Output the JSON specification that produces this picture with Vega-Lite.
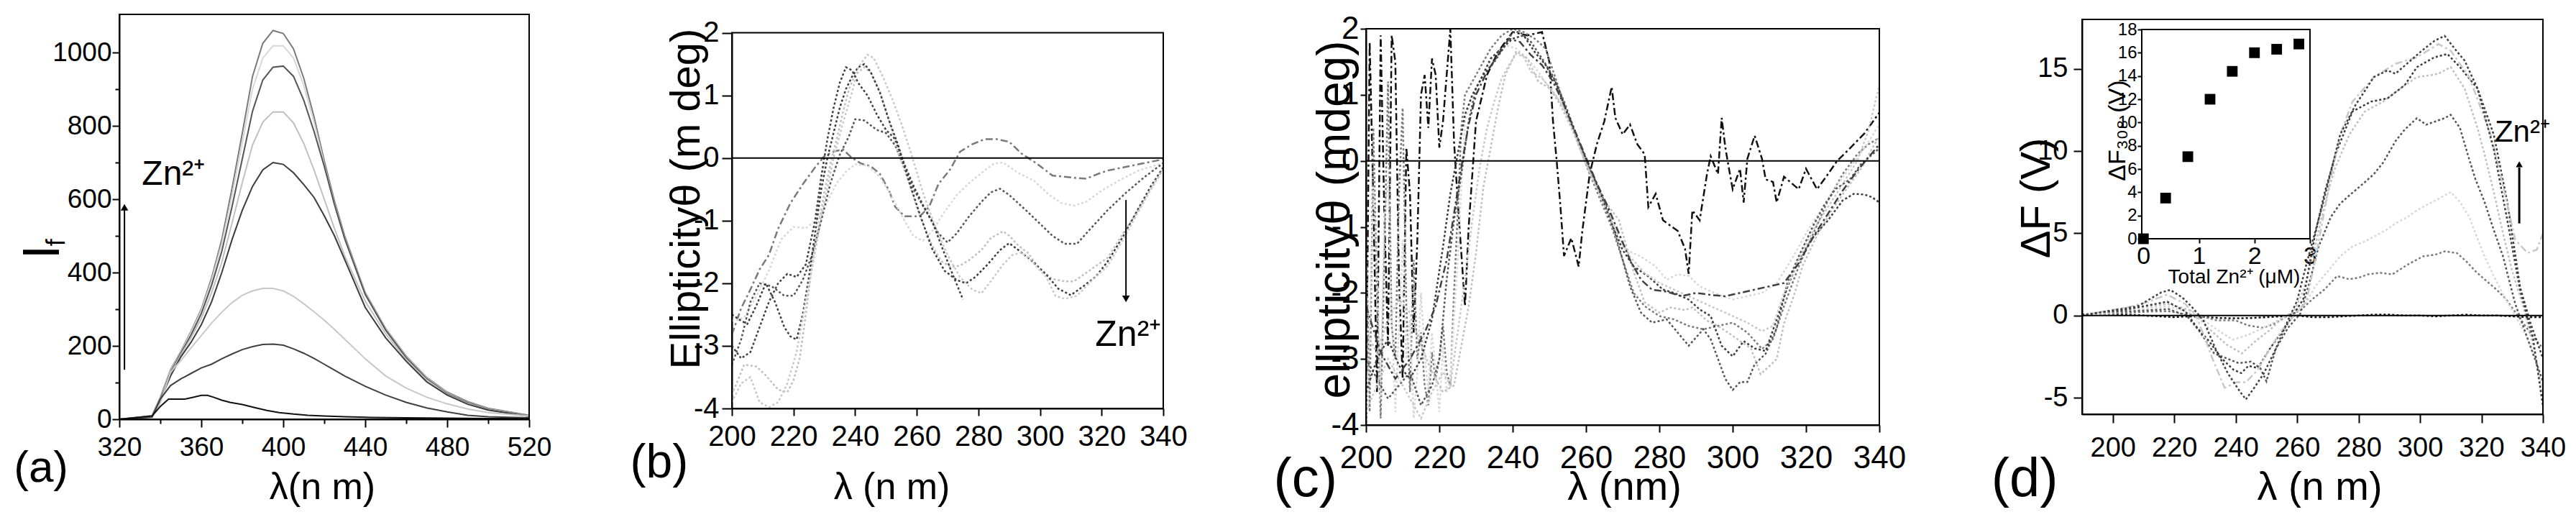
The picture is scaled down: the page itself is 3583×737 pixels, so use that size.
{
  "$schema": "https://vega.github.io/schema/vega-lite/v6.json",
  "background": "#ffffff",
  "padding": {"left": 19, "top": 18, "right": 0, "bottom": 0},
  "autosize": {"type": "pad"},
  "bounds": "flush",
  "spacing": 282,
  "config": {
    "font": "Liberation Sans",
    "view": {"stroke": null},
    "axis": {
      "grid": false,
      "domainColor": "#000000",
      "domainWidth": 2,
      "tickColor": "#000000",
      "tickWidth": 2,
      "tickSize": 10,
      "labelColor": "#000000",
      "titleColor": "#000000",
      "titleFontWeight": "normal",
      "labelFlush": false,
      "labelOverlap": false,
      "labelExpr": "'' + datum.value"
    }
  },
  "datasets": {
    "fa": [
      {"s":"a1","x":320,"y":0},{"s":"a1","x":336,"y":10},{"s":"a1","x":340,"y":60},{"s":"a1","x":345,"y":135},{"s":"a1","x":350,"y":185},{"s":"a1","x":355,"y":240},{"s":"a1","x":360,"y":300},{"s":"a1","x":365,"y":385},{"s":"a1","x":370,"y":490},{"s":"a1","x":375,"y":630},{"s":"a1","x":380,"y":780},{"s":"a1","x":385,"y":935},{"s":"a1","x":390,"y":1025},{"s":"a1","x":395,"y":1060},{"s":"a1","x":400,"y":1052},{"s":"a1","x":405,"y":1010},{"s":"a1","x":410,"y":930},{"s":"a1","x":415,"y":825},{"s":"a1","x":420,"y":705},{"s":"a1","x":425,"y":595},{"s":"a1","x":430,"y":500},{"s":"a1","x":440,"y":345},{"s":"a1","x":450,"y":247},{"s":"a1","x":460,"y":172},{"s":"a1","x":470,"y":114},{"s":"a1","x":480,"y":74},{"s":"a1","x":490,"y":48},{"s":"a1","x":500,"y":30},{"s":"a1","x":520,"y":11},
      {"s":"a2","x":320,"y":0},{"s":"a2","x":336,"y":9},{"s":"a2","x":340,"y":58},{"s":"a2","x":345,"y":132},{"s":"a2","x":350,"y":183},{"s":"a2","x":355,"y":237},{"s":"a2","x":360,"y":296},{"s":"a2","x":365,"y":378},{"s":"a2","x":370,"y":478},{"s":"a2","x":375,"y":610},{"s":"a2","x":380,"y":755},{"s":"a2","x":385,"y":900},{"s":"a2","x":390,"y":985},{"s":"a2","x":395,"y":1018},{"s":"a2","x":400,"y":1018},{"s":"a2","x":405,"y":985},{"s":"a2","x":410,"y":910},{"s":"a2","x":415,"y":810},{"s":"a2","x":420,"y":695},{"s":"a2","x":425,"y":588},{"s":"a2","x":430,"y":495},{"s":"a2","x":440,"y":342},{"s":"a2","x":450,"y":245},{"s":"a2","x":460,"y":170},{"s":"a2","x":470,"y":112},{"s":"a2","x":480,"y":72},{"s":"a2","x":490,"y":46},{"s":"a2","x":500,"y":28},{"s":"a2","x":520,"y":10},
      {"s":"a3","x":320,"y":0},{"s":"a3","x":336,"y":9},{"s":"a3","x":340,"y":56},{"s":"a3","x":345,"y":128},{"s":"a3","x":350,"y":180},{"s":"a3","x":355,"y":230},{"s":"a3","x":360,"y":288},{"s":"a3","x":365,"y":365},{"s":"a3","x":370,"y":458},{"s":"a3","x":375,"y":580},{"s":"a3","x":380,"y":710},{"s":"a3","x":385,"y":840},{"s":"a3","x":390,"y":925},{"s":"a3","x":395,"y":960},{"s":"a3","x":400,"y":963},{"s":"a3","x":405,"y":935},{"s":"a3","x":410,"y":870},{"s":"a3","x":415,"y":785},{"s":"a3","x":420,"y":690},{"s":"a3","x":425,"y":585},{"s":"a3","x":430,"y":492},{"s":"a3","x":440,"y":340},{"s":"a3","x":450,"y":243},{"s":"a3","x":460,"y":168},{"s":"a3","x":470,"y":110},{"s":"a3","x":480,"y":70},{"s":"a3","x":490,"y":45},{"s":"a3","x":500,"y":27},{"s":"a3","x":520,"y":10},
      {"s":"a4","x":320,"y":0},{"s":"a4","x":336,"y":8},{"s":"a4","x":340,"y":54},{"s":"a4","x":345,"y":124},{"s":"a4","x":350,"y":176},{"s":"a4","x":355,"y":222},{"s":"a4","x":360,"y":275},{"s":"a4","x":365,"y":345},{"s":"a4","x":370,"y":428},{"s":"a4","x":375,"y":535},{"s":"a4","x":380,"y":645},{"s":"a4","x":385,"y":748},{"s":"a4","x":390,"y":810},{"s":"a4","x":395,"y":838},{"s":"a4","x":400,"y":838},{"s":"a4","x":405,"y":808},{"s":"a4","x":410,"y":752},{"s":"a4","x":415,"y":680},{"s":"a4","x":420,"y":600},{"s":"a4","x":425,"y":520},{"s":"a4","x":430,"y":445},{"s":"a4","x":440,"y":322},{"s":"a4","x":450,"y":233},{"s":"a4","x":460,"y":163},{"s":"a4","x":470,"y":107},{"s":"a4","x":480,"y":68},{"s":"a4","x":490,"y":43},{"s":"a4","x":500,"y":26},{"s":"a4","x":520,"y":9},
      {"s":"a5","x":320,"y":0},{"s":"a5","x":336,"y":8},{"s":"a5","x":340,"y":52},{"s":"a5","x":345,"y":118},{"s":"a5","x":350,"y":170},{"s":"a5","x":355,"y":210},{"s":"a5","x":360,"y":258},{"s":"a5","x":365,"y":320},{"s":"a5","x":370,"y":400},{"s":"a5","x":375,"y":490},{"s":"a5","x":380,"y":570},{"s":"a5","x":385,"y":635},{"s":"a5","x":390,"y":680},{"s":"a5","x":395,"y":700},{"s":"a5","x":400,"y":695},{"s":"a5","x":405,"y":672},{"s":"a5","x":410,"y":640},{"s":"a5","x":415,"y":605},{"s":"a5","x":420,"y":555},{"s":"a5","x":425,"y":500},{"s":"a5","x":430,"y":435},{"s":"a5","x":440,"y":305},{"s":"a5","x":450,"y":222},{"s":"a5","x":460,"y":158},{"s":"a5","x":470,"y":102},{"s":"a5","x":480,"y":66},{"s":"a5","x":490,"y":41},{"s":"a5","x":500,"y":25},{"s":"a5","x":520,"y":8},
      {"s":"a6","x":320,"y":0},{"s":"a6","x":336,"y":6},{"s":"a6","x":340,"y":45},{"s":"a6","x":345,"y":128},{"s":"a6","x":350,"y":160},{"s":"a6","x":355,"y":195},{"s":"a6","x":360,"y":228},{"s":"a6","x":365,"y":262},{"s":"a6","x":370,"y":292},{"s":"a6","x":375,"y":318},{"s":"a6","x":380,"y":338},{"s":"a6","x":385,"y":350},{"s":"a6","x":390,"y":357},{"s":"a6","x":395,"y":357},{"s":"a6","x":400,"y":350},{"s":"a6","x":405,"y":335},{"s":"a6","x":410,"y":315},{"s":"a6","x":415,"y":293},{"s":"a6","x":420,"y":270},{"s":"a6","x":425,"y":245},{"s":"a6","x":430,"y":218},{"s":"a6","x":440,"y":165},{"s":"a6","x":450,"y":118},{"s":"a6","x":460,"y":85},{"s":"a6","x":470,"y":60},{"s":"a6","x":480,"y":42},{"s":"a6","x":490,"y":28},{"s":"a6","x":500,"y":18},{"s":"a6","x":520,"y":9},
      {"s":"a7","x":320,"y":0},{"s":"a7","x":336,"y":6},{"s":"a7","x":340,"y":55},{"s":"a7","x":345,"y":92},{"s":"a7","x":350,"y":110},{"s":"a7","x":355,"y":125},{"s":"a7","x":360,"y":140},{"s":"a7","x":365,"y":150},{"s":"a7","x":370,"y":165},{"s":"a7","x":375,"y":178},{"s":"a7","x":380,"y":190},{"s":"a7","x":385,"y":198},{"s":"a7","x":390,"y":204},{"s":"a7","x":395,"y":205},{"s":"a7","x":400,"y":202},{"s":"a7","x":405,"y":192},{"s":"a7","x":410,"y":180},{"s":"a7","x":415,"y":166},{"s":"a7","x":420,"y":150},{"s":"a7","x":425,"y":134},{"s":"a7","x":430,"y":118},{"s":"a7","x":440,"y":90},{"s":"a7","x":450,"y":66},{"s":"a7","x":460,"y":46},{"s":"a7","x":470,"y":31},{"s":"a7","x":480,"y":20},{"s":"a7","x":490,"y":11},{"s":"a7","x":500,"y":7},{"s":"a7","x":520,"y":4},
      {"s":"a8","x":320,"y":0},{"s":"a8","x":336,"y":9},{"s":"a8","x":340,"y":35},{"s":"a8","x":344,"y":55},{"s":"a8","x":348,"y":55},{"s":"a8","x":352,"y":55},{"s":"a8","x":356,"y":60},{"s":"a8","x":360,"y":65},{"s":"a8","x":363,"y":65},{"s":"a8","x":366,"y":60},{"s":"a8","x":370,"y":52},{"s":"a8","x":374,"y":46},{"s":"a8","x":380,"y":40},{"s":"a8","x":386,"y":32},{"s":"a8","x":392,"y":24},{"s":"a8","x":398,"y":18},{"s":"a8","x":405,"y":14},{"s":"a8","x":412,"y":11},{"s":"a8","x":420,"y":9},{"s":"a8","x":430,"y":7},{"s":"a8","x":443,"y":5},{"s":"a8","x":460,"y":4},{"s":"a8","x":480,"y":3},{"s":"a8","x":500,"y":2},{"s":"a8","x":520,"y":2}
    ],
    "fb": [
      {"s":"b1","x":200,"y":-2.82},{"s":"b1","x":203,"y":-2.4},{"s":"b1","x":206,"y":-2.1},{"s":"b1","x":209,"y":-1.78},{"s":"b1","x":212,"y":-1.55},{"s":"b1","x":215,"y":-1.13},{"s":"b1","x":219,"y":-0.72},{"s":"b1","x":223,"y":-0.42},{"s":"b1","x":227,"y":-0.15},{"s":"b1","x":230,"y":0.03},{"s":"b1","x":233,"y":0.1},{"s":"b1","x":236,"y":0.14},{"s":"b1","x":239,"y":0},{"s":"b1","x":242,"y":-0.09},{"s":"b1","x":245,"y":-0.13},{"s":"b1","x":248,"y":-0.25},{"s":"b1","x":251,"y":-0.52},{"s":"b1","x":253,"y":-0.78},{"s":"b1","x":256,"y":-0.93},{"s":"b1","x":261,"y":-0.93},{"s":"b1","x":264,"y":-0.78},{"s":"b1","x":267,"y":-0.42},{"s":"b1","x":271,"y":-0.17},{"s":"b1","x":274,"y":0.1},{"s":"b1","x":278,"y":0.22},{"s":"b1","x":282,"y":0.3},{"s":"b1","x":286,"y":0.3},{"s":"b1","x":290,"y":0.26},{"s":"b1","x":294,"y":0.07},{"s":"b1","x":299,"y":-0.09},{"s":"b1","x":304,"y":-0.28},{"s":"b1","x":308,"y":-0.3},{"s":"b1","x":312,"y":-0.32},{"s":"b1","x":315,"y":-0.33},{"s":"b1","x":319,"y":-0.25},{"s":"b1","x":322,"y":-0.2},{"s":"b1","x":326,"y":-0.16},{"s":"b1","x":330,"y":-0.12},{"s":"b1","x":335,"y":-0.07},{"s":"b1","x":340,"y":-0.02},
      {"s":"b2","x":200,"y":-2.6},{"s":"b2","x":204,"y":-2.55},{"s":"b2","x":208,"y":-2.2},{"s":"b2","x":212,"y":-1.8},{"s":"b2","x":216,"y":-1.3},{"s":"b2","x":220,"y":-1.1},{"s":"b2","x":224,"y":-1.12},{"s":"b2","x":228,"y":-0.97},{"s":"b2","x":231,"y":-0.7},{"s":"b2","x":234,"y":-0.4},{"s":"b2","x":237,"y":-0.22},{"s":"b2","x":240,"y":-0.1},{"s":"b2","x":244,"y":-0.12},{"s":"b2","x":248,"y":-0.3},{"s":"b2","x":252,"y":-0.62},{"s":"b2","x":256,"y":-1.0},{"s":"b2","x":259,"y":-1.25},{"s":"b2","x":262,"y":-1.32},{"s":"b2","x":265,"y":-1.17},{"s":"b2","x":269,"y":-0.86},{"s":"b2","x":273,"y":-0.59},{"s":"b2","x":277,"y":-0.4},{"s":"b2","x":282,"y":-0.2},{"s":"b2","x":285,"y":-0.09},{"s":"b2","x":288,"y":-0.07},{"s":"b2","x":293,"y":-0.24},{"s":"b2","x":298,"y":-0.36},{"s":"b2","x":303,"y":-0.59},{"s":"b2","x":307,"y":-0.72},{"s":"b2","x":311,"y":-0.76},{"s":"b2","x":315,"y":-0.7},{"s":"b2","x":320,"y":-0.52},{"s":"b2","x":326,"y":-0.35},{"s":"b2","x":332,"y":-0.2},{"s":"b2","x":340,"y":-0.08},
      {"s":"b3","x":200,"y":-3.3},{"s":"b3","x":203,"y":-2.9},{"s":"b3","x":206,"y":-2.3},{"s":"b3","x":209,"y":-2.0},{"s":"b3","x":213,"y":-2.05},{"s":"b3","x":217,"y":-2.2},{"s":"b3","x":220,"y":-2.2},{"s":"b3","x":223,"y":-1.95},{"s":"b3","x":226,"y":-1.55},{"s":"b3","x":229,"y":-1.0},{"s":"b3","x":232,"y":-0.4},{"s":"b3","x":235,"y":0.05},{"s":"b3","x":238,"y":0.35},{"s":"b3","x":240,"y":0.62},{"s":"b3","x":243,"y":0.6},{"s":"b3","x":247,"y":0.45},{"s":"b3","x":250,"y":0.4},{"s":"b3","x":253,"y":0.2},{"s":"b3","x":256,"y":-0.15},{"s":"b3","x":259,"y":-0.5},{"s":"b3","x":263,"y":-0.85},{"s":"b3","x":267,"y":-1.2},{"s":"b3","x":270,"y":-1.35},{"s":"b3","x":273,"y":-1.2},{"s":"b3","x":277,"y":-0.93},{"s":"b3","x":281,"y":-0.7},{"s":"b3","x":284,"y":-0.55},{"s":"b3","x":287,"y":-0.49},{"s":"b3","x":290,"y":-0.59},{"s":"b3","x":296,"y":-0.86},{"s":"b3","x":300,"y":-1.05},{"s":"b3","x":304,"y":-1.24},{"s":"b3","x":308,"y":-1.37},{"s":"b3","x":312,"y":-1.37},{"s":"b3","x":316,"y":-1.15},{"s":"b3","x":322,"y":-0.83},{"s":"b3","x":328,"y":-0.55},{"s":"b3","x":334,"y":-0.3},{"s":"b3","x":340,"y":-0.08},
      {"s":"b4","x":200,"y":-3.78},{"s":"b4","x":204,"y":-3.3},{"s":"b4","x":208,"y":-3.33},{"s":"b4","x":211,"y":-3.47},{"s":"b4","x":215,"y":-3.7},{"s":"b4","x":218,"y":-3.74},{"s":"b4","x":220,"y":-3.55},{"s":"b4","x":222,"y":-3.2},{"s":"b4","x":224,"y":-2.5},{"s":"b4","x":226,"y":-1.7},{"s":"b4","x":228,"y":-1.1},{"s":"b4","x":230,"y":-0.55},{"s":"b4","x":232,"y":-0.09},{"s":"b4","x":234,"y":0.3},{"s":"b4","x":236,"y":0.72},{"s":"b4","x":238,"y":1.1},{"s":"b4","x":240,"y":1.33},{"s":"b4","x":243,"y":1.45},{"s":"b4","x":245,"y":1.37},{"s":"b4","x":248,"y":1.07},{"s":"b4","x":251,"y":0.6},{"s":"b4","x":254,"y":0.07},{"s":"b4","x":257,"y":-0.32},{"s":"b4","x":261,"y":-0.93},{"s":"b4","x":265,"y":-1.4},{"s":"b4","x":268,"y":-1.65},{"s":"b4","x":271,"y":-1.74},{"s":"b4","x":274,"y":-1.72},{"s":"b4","x":277,"y":-1.63},{"s":"b4","x":281,"y":-1.47},{"s":"b4","x":284,"y":-1.28},{"s":"b4","x":288,"y":-1.17},{"s":"b4","x":290,"y":-1.24},{"s":"b4","x":293,"y":-1.4},{"s":"b4","x":296,"y":-1.51},{"s":"b4","x":300,"y":-1.78},{"s":"b4","x":304,"y":-1.93},{"s":"b4","x":308,"y":-1.97},{"s":"b4","x":311,"y":-1.97},{"s":"b4","x":316,"y":-1.8},{"s":"b4","x":322,"y":-1.59},{"s":"b4","x":327,"y":-1.2},{"s":"b4","x":331,"y":-0.9},{"s":"b4","x":336,"y":-0.5},{"s":"b4","x":340,"y":-0.18},
      {"s":"b5","x":200,"y":-2.5},{"s":"b5","x":203,"y":-2.6},{"s":"b5","x":205,"y":-2.65},{"s":"b5","x":208,"y":-2.35},{"s":"b5","x":211,"y":-2.0},{"s":"b5","x":214,"y":-2.3},{"s":"b5","x":217,"y":-2.7},{"s":"b5","x":219,"y":-2.85},{"s":"b5","x":221,"y":-2.9},{"s":"b5","x":223,"y":-2.5},{"s":"b5","x":225,"y":-1.9},{"s":"b5","x":227,"y":-1.2},{"s":"b5","x":229,"y":-0.5},{"s":"b5","x":231,"y":0.0},{"s":"b5","x":233,"y":0.4},{"s":"b5","x":235,"y":0.8},{"s":"b5","x":237,"y":1.1},{"s":"b5","x":239,"y":1.3},{"s":"b5","x":241,"y":1.45},{"s":"b5","x":243,"y":1.5},{"s":"b5","x":245,"y":1.38},{"s":"b5","x":248,"y":1.05},{"s":"b5","x":251,"y":0.6},{"s":"b5","x":254,"y":0.2},{"s":"b5","x":257,"y":-0.3},{"s":"b5","x":261,"y":-0.9},{"s":"b5","x":265,"y":-1.45},{"s":"b5","x":269,"y":-1.8},{"s":"b5","x":273,"y":-1.95},{"s":"b5","x":276,"y":-2.0},{"s":"b5","x":279,"y":-1.9},{"s":"b5","x":283,"y":-1.7},{"s":"b5","x":287,"y":-1.47},{"s":"b5","x":290,"y":-1.36},{"s":"b5","x":293,"y":-1.47},{"s":"b5","x":298,"y":-1.67},{"s":"b5","x":302,"y":-1.86},{"s":"b5","x":306,"y":-2.09},{"s":"b5","x":310,"y":-2.19},{"s":"b5","x":314,"y":-2.05},{"s":"b5","x":318,"y":-1.9},{"s":"b5","x":322,"y":-1.65},{"s":"b5","x":327,"y":-1.25},{"s":"b5","x":332,"y":-0.8},{"s":"b5","x":336,"y":-0.45},{"s":"b5","x":340,"y":-0.15},
      {"s":"b6","x":200,"y":-3.9},{"s":"b6","x":203,"y":-3.6},{"s":"b6","x":206,"y":-3.5},{"s":"b6","x":209,"y":-3.9},{"s":"b6","x":212,"y":-3.98},{"s":"b6","x":215,"y":-3.9},{"s":"b6","x":218,"y":-3.6},{"s":"b6","x":221,"y":-3.1},{"s":"b6","x":224,"y":-2.3},{"s":"b6","x":227,"y":-1.5},{"s":"b6","x":230,"y":-0.7},{"s":"b6","x":233,"y":0.0},{"s":"b6","x":236,"y":0.55},{"s":"b6","x":239,"y":1.05},{"s":"b6","x":241,"y":1.45},{"s":"b6","x":244,"y":1.65},{"s":"b6","x":246,"y":1.6},{"s":"b6","x":249,"y":1.3},{"s":"b6","x":252,"y":0.95},{"s":"b6","x":255,"y":0.55},{"s":"b6","x":258,"y":0.1},{"s":"b6","x":262,"y":-0.55},{"s":"b6","x":266,"y":-1.1},{"s":"b6","x":270,"y":-1.55},{"s":"b6","x":274,"y":-1.9},{"s":"b6","x":278,"y":-2.1},{"s":"b6","x":281,"y":-2.16},{"s":"b6","x":284,"y":-1.97},{"s":"b6","x":288,"y":-1.7},{"s":"b6","x":291,"y":-1.55},{"s":"b6","x":294,"y":-1.51},{"s":"b6","x":297,"y":-1.63},{"s":"b6","x":302,"y":-1.9},{"s":"b6","x":305,"y":-2.2},{"s":"b6","x":308,"y":-2.25},{"s":"b6","x":312,"y":-2.2},{"s":"b6","x":317,"y":-1.95},{"s":"b6","x":322,"y":-1.72},{"s":"b6","x":327,"y":-1.3},{"s":"b6","x":332,"y":-0.85},{"s":"b6","x":336,"y":-0.5},{"s":"b6","x":340,"y":-0.18},
      {"s":"b7","x":200,"y":-3.0},{"s":"b7","x":203,"y":-3.2},{"s":"b7","x":206,"y":-3.1},{"s":"b7","x":209,"y":-2.7},{"s":"b7","x":212,"y":-2.3},{"s":"b7","x":215,"y":-2.0},{"s":"b7","x":218,"y":-1.85},{"s":"b7","x":221,"y":-1.9},{"s":"b7","x":224,"y":-1.7},{"s":"b7","x":227,"y":-1.0},{"s":"b7","x":229,"y":-0.3},{"s":"b7","x":231,"y":0.3},{"s":"b7","x":233,"y":0.8},{"s":"b7","x":235,"y":1.2},{"s":"b7","x":237,"y":1.45},{"s":"b7","x":239,"y":1.4},{"s":"b7","x":241,"y":1.2},{"s":"b7","x":244,"y":1.0},{"s":"b7","x":247,"y":0.7},{"s":"b7","x":250,"y":0.45},{"s":"b7","x":253,"y":0.3},{"s":"b7","x":256,"y":-0.1},{"s":"b7","x":259,"y":-0.45},{"s":"b7","x":262,"y":-0.75},{"s":"b7","x":265,"y":-1.01},{"s":"b7","x":268,"y":-1.4},{"s":"b7","x":271,"y":-1.78},{"s":"b7","x":275,"y":-2.26}
    ],
    "fc": [
      {"s":"c1","x":200,"y":-3.9},{"s":"c1","x":201,"y":1.8},{"s":"c1","x":202,"y":-0.6},{"s":"c1","x":203,"y":-3.5},{"s":"c1","x":204,"y":1.9},{"s":"c1","x":205,"y":-0.8},{"s":"c1","x":206,"y":-2.8},{"s":"c1","x":207,"y":1.9},{"s":"c1","x":208,"y":1.5},{"s":"c1","x":209,"y":-1.8},{"s":"c1","x":210,"y":-3.3},{"s":"c1","x":211,"y":0.2},{"s":"c1","x":212,"y":-0.5},{"s":"c1","x":213,"y":-2.6},{"s":"c1","x":214,"y":-1.2},{"s":"c1","x":215,"y":1.0},{"s":"c1","x":216,"y":1.3},{"s":"c1","x":217,"y":0.5},{"s":"c1","x":218,"y":1.55},{"s":"c1","x":219,"y":1.3},{"s":"c1","x":220,"y":0.2},{"s":"c1","x":221,"y":0.6},{"s":"c1","x":222,"y":1.3},{"s":"c1","x":223,"y":2.0},{"s":"c1","x":224,"y":0.3},{"s":"c1","x":225,"y":-0.6},{"s":"c1","x":226,"y":-1.4},{"s":"c1","x":227,"y":-2.2},{"s":"c1","x":228,"y":-1.0},{"s":"c1","x":230,"y":0.6},{"s":"c1","x":233,"y":1.3},{"s":"c1","x":236,"y":1.65},{"s":"c1","x":240,"y":1.95},{"s":"c1","x":244,"y":1.9},{"s":"c1","x":248,"y":1.95},{"s":"c1","x":250,"y":1.5},{"s":"c1","x":251,"y":0.6},{"s":"c1","x":252,"y":0.0},{"s":"c1","x":253,"y":-0.67},{"s":"c1","x":254,"y":-1.44},{"s":"c1","x":256,"y":-1.17},{"s":"c1","x":258,"y":-1.6},{"s":"c1","x":259,"y":-1.06},{"s":"c1","x":261,"y":-0.2},{"s":"c1","x":263,"y":0.26},{"s":"c1","x":265,"y":0.6},{"s":"c1","x":267,"y":1.12},{"s":"c1","x":268,"y":0.65},{"s":"c1","x":270,"y":0.4},{"s":"c1","x":272,"y":0.55},{"s":"c1","x":274,"y":0.25},{"s":"c1","x":276,"y":0.1},{"s":"c1","x":277,"y":-0.7},{"s":"c1","x":279,"y":-0.5},{"s":"c1","x":281,"y":-0.9},{"s":"c1","x":285,"y":-1.06},{"s":"c1","x":287,"y":-1.33},{"s":"c1","x":288,"y":-1.71},{"s":"c1","x":289,"y":-0.75},{"s":"c1","x":291,"y":-0.9},{"s":"c1","x":293,"y":-0.2},{"s":"c1","x":294,"y":0.07},{"s":"c1","x":296,"y":-0.2},{"s":"c1","x":297,"y":0.65},{"s":"c1","x":298,"y":0.2},{"s":"c1","x":299,"y":-0.12},{"s":"c1","x":300,"y":-0.43},{"s":"c1","x":302,"y":-0.12},{"s":"c1","x":303,"y":-0.63},{"s":"c1","x":304,"y":0.03},{"s":"c1","x":306,"y":0.38},{"s":"c1","x":308,"y":0.03},{"s":"c1","x":309,"y":-0.28},{"s":"c1","x":311,"y":-0.32},{"s":"c1","x":312,"y":-0.63},{"s":"c1","x":314,"y":-0.24},{"s":"c1","x":318,"y":-0.43},{"s":"c1","x":320,"y":-0.12},{"s":"c1","x":323,"y":-0.43},{"s":"c1","x":326,"y":-0.2},{"s":"c1","x":328.5,"y":0.0},{"s":"c1","x":332,"y":0.19},{"s":"c1","x":336,"y":0.42},{"s":"c1","x":340,"y":0.73},
      {"s":"c2","x":200,"y":-1.0},{"s":"c2","x":201,"y":-3.8},{"s":"c2","x":202,"y":0.5},{"s":"c2","x":203,"y":-2.0},{"s":"c2","x":204,"y":-3.9},{"s":"c2","x":205,"y":-1.5},{"s":"c2","x":206,"y":1.2},{"s":"c2","x":207,"y":-2.5},{"s":"c2","x":208,"y":-3.0},{"s":"c2","x":209,"y":-0.5},{"s":"c2","x":210,"y":0.8},{"s":"c2","x":211,"y":-2.2},{"s":"c2","x":212,"y":-3.5},{"s":"c2","x":213,"y":-1.5},{"s":"c2","x":214,"y":-3.0},{"s":"c2","x":215,"y":-2.6},{"s":"c2","x":216,"y":-3.4},{"s":"c2","x":217,"y":-3.7},{"s":"c2","x":218,"y":-2.9},{"s":"c2","x":219,"y":-3.3},{"s":"c2","x":220,"y":-3.0},{"s":"c2","x":221,"y":-2.5},{"s":"c2","x":222,"y":-3.2},{"s":"c2","x":223,"y":-3.4},{"s":"c2","x":224,"y":-2.0},{"s":"c2","x":225,"y":-0.8},{"s":"c2","x":226,"y":0.5},{"s":"c2","x":227,"y":1.0},{"s":"c2","x":229,"y":1.2},{"s":"c2","x":231,"y":1.4},{"s":"c2","x":234,"y":1.7},{"s":"c2","x":237,"y":1.9},{"s":"c2","x":240,"y":2.0},{"s":"c2","x":243,"y":1.95},{"s":"c2","x":246,"y":1.85},{"s":"c2","x":249,"y":1.7},{"s":"c2","x":252,"y":1.2},{"s":"c2","x":255,"y":0.7},{"s":"c2","x":258,"y":0.25},{"s":"c2","x":261,"y":-0.2},{"s":"c2","x":264,"y":-0.6},{"s":"c2","x":267,"y":-1.0},{"s":"c2","x":270,"y":-1.5},{"s":"c2","x":273,"y":-2.0},{"s":"c2","x":276,"y":-2.2},{"s":"c2","x":280,"y":-2.35},{"s":"c2","x":284,"y":-2.4},{"s":"c2","x":288,"y":-2.5},{"s":"c2","x":292,"y":-2.55},{"s":"c2","x":296,"y":-2.5},{"s":"c2","x":300,"y":-2.45},{"s":"c2","x":304,"y":-2.6},{"s":"c2","x":308,"y":-2.85},{"s":"c2","x":311,"y":-2.7},{"s":"c2","x":314,"y":-2.2},{"s":"c2","x":318,"y":-1.6},{"s":"c2","x":322,"y":-1.1},{"s":"c2","x":326,"y":-0.6},{"s":"c2","x":330,"y":-0.2},{"s":"c2","x":334,"y":0.1},{"s":"c2","x":337,"y":0.25},{"s":"c2","x":340,"y":0.35},
      {"s":"c3","x":200,"y":-4.0},{"s":"c3","x":201,"y":-2.5},{"s":"c3","x":202,"y":-0.4},{"s":"c3","x":203,"y":-1.5},{"s":"c3","x":204,"y":-3.6},{"s":"c3","x":205,"y":-0.8},{"s":"c3","x":206,"y":-0.3},{"s":"c3","x":207,"y":-2.3},{"s":"c3","x":208,"y":-3.8},{"s":"c3","x":209,"y":-2.5},{"s":"c3","x":210,"y":-1.2},{"s":"c3","x":211,"y":-3.0},{"s":"c3","x":212,"y":-2.4},{"s":"c3","x":213,"y":-3.9},{"s":"c3","x":214,"y":-3.2},{"s":"c3","x":215,"y":-2.0},{"s":"c3","x":216,"y":-2.9},{"s":"c3","x":217,"y":-3.5},{"s":"c3","x":218,"y":-2.6},{"s":"c3","x":219,"y":-3.2},{"s":"c3","x":220,"y":-3.8},{"s":"c3","x":221,"y":-2.8},{"s":"c3","x":222,"y":-3.5},{"s":"c3","x":223,"y":-3.3},{"s":"c3","x":224,"y":-2.4},{"s":"c3","x":225,"y":-1.5},{"s":"c3","x":226,"y":-0.4},{"s":"c3","x":227,"y":0.6},{"s":"c3","x":229,"y":1.0},{"s":"c3","x":232,"y":1.3},{"s":"c3","x":235,"y":1.6},{"s":"c3","x":238,"y":1.75},{"s":"c3","x":241,"y":1.7},{"s":"c3","x":244,"y":1.55},{"s":"c3","x":247,"y":1.35},{"s":"c3","x":250,"y":1.1},{"s":"c3","x":253,"y":0.9},{"s":"c3","x":256,"y":0.55},{"s":"c3","x":259,"y":0.15},{"s":"c3","x":262,"y":-0.25},{"s":"c3","x":265,"y":-0.65},{"s":"c3","x":268,"y":-1.1},{"s":"c3","x":271,"y":-1.35},{"s":"c3","x":275,"y":-1.45},{"s":"c3","x":279,"y":-1.6},{"s":"c3","x":282,"y":-1.8},{"s":"c3","x":285,"y":-1.72},{"s":"c3","x":288,"y":-1.74},{"s":"c3","x":291,"y":-1.9},{"s":"c3","x":295,"y":-2.0},{"s":"c3","x":300,"y":-2.1},{"s":"c3","x":304,"y":-2.05},{"s":"c3","x":308,"y":-2.0},{"s":"c3","x":312,"y":-1.85},{"s":"c3","x":316,"y":-1.5},{"s":"c3","x":320,"y":-1.1},{"s":"c3","x":324,"y":-0.75},{"s":"c3","x":328,"y":-0.4},{"s":"c3","x":332,"y":-0.1},{"s":"c3","x":336,"y":0.2},{"s":"c3","x":340,"y":0.55},
      {"s":"c4","x":200,"y":-3.0},{"s":"c4","x":203,"y":-3.3},{"s":"c4","x":206,"y":-3.6},{"s":"c4","x":209,"y":-3.4},{"s":"c4","x":212,"y":-3.2},{"s":"c4","x":215,"y":-3.7},{"s":"c4","x":218,"y":-3.4},{"s":"c4","x":220,"y":-3.0},{"s":"c4","x":222,"y":-1.8},{"s":"c4","x":224,"y":-0.9},{"s":"c4","x":226,"y":-0.2},{"s":"c4","x":228,"y":0.6},{"s":"c4","x":230,"y":1.1},{"s":"c4","x":232,"y":1.3},{"s":"c4","x":235,"y":1.5},{"s":"c4","x":238,"y":1.75},{"s":"c4","x":240,"y":1.95},{"s":"c4","x":242,"y":1.95},{"s":"c4","x":245,"y":1.8},{"s":"c4","x":248,"y":1.55},{"s":"c4","x":251,"y":1.28},{"s":"c4","x":254,"y":0.9},{"s":"c4","x":257,"y":0.45},{"s":"c4","x":260,"y":0.0},{"s":"c4","x":263,"y":-0.35},{"s":"c4","x":266,"y":-0.75},{"s":"c4","x":269,"y":-1.3},{"s":"c4","x":272,"y":-1.9},{"s":"c4","x":275,"y":-2.3},{"s":"c4","x":278,"y":-2.45},{"s":"c4","x":282,"y":-2.4},{"s":"c4","x":285,"y":-2.6},{"s":"c4","x":288,"y":-2.8},{"s":"c4","x":292,"y":-2.55},{"s":"c4","x":294,"y":-2.7},{"s":"c4","x":296,"y":-3.0},{"s":"c4","x":298,"y":-3.3},{"s":"c4","x":300,"y":-3.47},{"s":"c4","x":302,"y":-3.35},{"s":"c4","x":304,"y":-3.35},{"s":"c4","x":306,"y":-3.08},{"s":"c4","x":309,"y":-2.92},{"s":"c4","x":312,"y":-2.53},{"s":"c4","x":315,"y":-1.83},{"s":"c4","x":318,"y":-1.45},{"s":"c4","x":322,"y":-0.98},{"s":"c4","x":325,"y":-0.67},{"s":"c4","x":328,"y":-0.43},{"s":"c4","x":332,"y":-0.28},{"s":"c4","x":335,"y":-0.05},{"s":"c4","x":340,"y":0.19},
      {"s":"c5","x":200,"y":-2.6},{"s":"c5","x":203,"y":-2.9},{"s":"c5","x":206,"y":-2.4},{"s":"c5","x":209,"y":-2.1},{"s":"c5","x":212,"y":-2.3},{"s":"c5","x":215,"y":-2.8},{"s":"c5","x":218,"y":-3.2},{"s":"c5","x":221,"y":-3.5},{"s":"c5","x":224,"y":-3.4},{"s":"c5","x":226,"y":-2.8},{"s":"c5","x":228,"y":-2.2},{"s":"c5","x":230,"y":-1.4},{"s":"c5","x":232,"y":-0.4},{"s":"c5","x":234,"y":0.2},{"s":"c5","x":236,"y":0.8},{"s":"c5","x":238,"y":1.3},{"s":"c5","x":241,"y":1.66},{"s":"c5","x":244,"y":1.55},{"s":"c5","x":247,"y":1.2},{"s":"c5","x":250,"y":1.1},{"s":"c5","x":253,"y":0.85},{"s":"c5","x":256,"y":0.5},{"s":"c5","x":259,"y":0.1},{"s":"c5","x":262,"y":-0.3},{"s":"c5","x":265,"y":-0.6},{"s":"c5","x":269,"y":-0.9},{"s":"c5","x":273,"y":-1.68},{"s":"c5","x":276,"y":-2.14},{"s":"c5","x":280,"y":-2.3},{"s":"c5","x":283,"y":-2.22},{"s":"c5","x":287,"y":-2.26},{"s":"c5","x":289,"y":-2.22},{"s":"c5","x":293,"y":-2.42},{"s":"c5","x":296,"y":-2.5},{"s":"c5","x":299,"y":-2.61},{"s":"c5","x":302,"y":-2.73},{"s":"c5","x":305,"y":-2.84},{"s":"c5","x":307.6,"y":-3.23},{"s":"c5","x":310,"y":-3.11},{"s":"c5","x":312,"y":-3.0},{"s":"c5","x":314,"y":-2.46},{"s":"c5","x":317,"y":-1.99},{"s":"c5","x":319,"y":-1.6},{"s":"c5","x":323,"y":-1.13},{"s":"c5","x":327,"y":-0.75},{"s":"c5","x":331,"y":-0.43},{"s":"c5","x":335,"y":-0.12},{"s":"c5","x":340,"y":0.38},
      {"s":"c6","x":200,"y":-3.5},{"s":"c6","x":203,"y":-3.0},{"s":"c6","x":206,"y":-2.7},{"s":"c6","x":209,"y":-3.1},{"s":"c6","x":212,"y":-3.3},{"s":"c6","x":215,"y":-3.0},{"s":"c6","x":218,"y":-2.4},{"s":"c6","x":221,"y":-1.3},{"s":"c6","x":223,"y":-0.5},{"s":"c6","x":225,"y":0.1},{"s":"c6","x":227,"y":0.7},{"s":"c6","x":229,"y":1.0},{"s":"c6","x":231,"y":1.2},{"s":"c6","x":234,"y":1.55},{"s":"c6","x":237,"y":1.7},{"s":"c6","x":240,"y":1.85},{"s":"c6","x":243,"y":1.9},{"s":"c6","x":246,"y":1.65},{"s":"c6","x":249,"y":1.45},{"s":"c6","x":252,"y":1.15},{"s":"c6","x":255,"y":0.7},{"s":"c6","x":258,"y":0.3},{"s":"c6","x":261,"y":-0.1},{"s":"c6","x":264,"y":-0.5},{"s":"c6","x":267,"y":-0.95},{"s":"c6","x":270,"y":-1.35},{"s":"c6","x":273,"y":-1.6},{"s":"c6","x":277,"y":-1.75},{"s":"c6","x":281,"y":-1.95},{"s":"c6","x":284,"y":-2.0},{"s":"c6","x":288,"y":-2.1},{"s":"c6","x":291,"y":-2.25},{"s":"c6","x":294,"y":-2.35},{"s":"c6","x":297,"y":-2.8},{"s":"c6","x":300,"y":-2.96},{"s":"c6","x":303,"y":-2.73},{"s":"c6","x":306,"y":-2.84},{"s":"c6","x":309,"y":-2.88},{"s":"c6","x":312,"y":-2.4},{"s":"c6","x":315,"y":-1.9},{"s":"c6","x":318,"y":-1.5},{"s":"c6","x":322,"y":-1.15},{"s":"c6","x":326,"y":-0.9},{"s":"c6","x":330,"y":-0.6},{"s":"c6","x":333,"y":-0.5},{"s":"c6","x":336,"y":-0.51},{"s":"c6","x":338,"y":-0.55},{"s":"c6","x":340,"y":-0.63},
      {"s":"c7","x":200,"y":-3.8},{"s":"c7","x":203,"y":-3.4},{"s":"c7","x":206,"y":-3.0},{"s":"c7","x":209,"y":-3.3},{"s":"c7","x":212,"y":-3.6},{"s":"c7","x":215,"y":-3.9},{"s":"c7","x":218,"y":-3.5},{"s":"c7","x":221,"y":-3.2},{"s":"c7","x":223,"y":-3.4},{"s":"c7","x":225,"y":-2.6},{"s":"c7","x":227,"y":-1.8},{"s":"c7","x":229,"y":-0.9},{"s":"c7","x":231,"y":-0.1},{"s":"c7","x":233,"y":0.5},{"s":"c7","x":235,"y":0.9},{"s":"c7","x":237,"y":1.25},{"s":"c7","x":239,"y":1.45},{"s":"c7","x":241,"y":1.62},{"s":"c7","x":243,"y":1.58},{"s":"c7","x":245,"y":1.35},{"s":"c7","x":248,"y":1.25},{"s":"c7","x":251,"y":1.05},{"s":"c7","x":254,"y":0.8},{"s":"c7","x":257,"y":0.4},{"s":"c7","x":260,"y":-0.05},{"s":"c7","x":263,"y":-0.4},{"s":"c7","x":266,"y":-0.8},{"s":"c7","x":269,"y":-1.15},{"s":"c7","x":272,"y":-1.45},{"s":"c7","x":276,"y":-1.7},{"s":"c7","x":280,"y":-1.85},{"s":"c7","x":284,"y":-1.95},{"s":"c7","x":288,"y":-2.05},{"s":"c7","x":292,"y":-2.15},{"s":"c7","x":296,"y":-2.25},{"s":"c7","x":300,"y":-2.35},{"s":"c7","x":304,"y":-2.45},{"s":"c7","x":308,"y":-2.58},{"s":"c7","x":311,"y":-2.5},{"s":"c7","x":314,"y":-2.0},{"s":"c7","x":318,"y":-1.5},{"s":"c7","x":322,"y":-1.05},{"s":"c7","x":326,"y":-0.7},{"s":"c7","x":330,"y":-0.35},{"s":"c7","x":334,"y":0.0},{"s":"c7","x":337,"y":0.45},{"s":"c7","x":340,"y":1.15},
      {"s":"c8","x":200,"y":-2.2},{"s":"c8","x":204,"y":-2.9},{"s":"c8","x":208,"y":-3.3},{"s":"c8","x":212,"y":-3.0},{"s":"c8","x":216,"y":-2.6},{"s":"c8","x":219,"y":-2.2},{"s":"c8","x":222,"y":-1.5},{"s":"c8","x":224,"y":-0.8},{"s":"c8","x":226,"y":-0.1},{"s":"c8","x":228,"y":0.55},{"s":"c8","x":230,"y":1.0},{"s":"c8","x":233,"y":1.35},{"s":"c8","x":236,"y":1.6},{"s":"c8","x":239,"y":1.85},{"s":"c8","x":242,"y":1.8},{"s":"c8","x":245,"y":1.6},{"s":"c8","x":248,"y":1.45},{"s":"c8","x":251,"y":1.2},{"s":"c8","x":254,"y":0.85},{"s":"c8","x":257,"y":0.45},{"s":"c8","x":260,"y":0.05},{"s":"c8","x":263,"y":-0.35},{"s":"c8","x":266,"y":-0.7},{"s":"c8","x":269,"y":-1.1},{"s":"c8","x":272,"y":-1.5},{"s":"c8","x":275,"y":-1.8},{"s":"c8","x":278,"y":-1.95},{"s":"c8","x":282,"y":-1.98},{"s":"c8","x":286,"y":-2.05},{"s":"c8","x":290,"y":-2.0},{"s":"c8","x":294,"y":-2.03},{"s":"c8","x":298,"y":-2.05},{"s":"c8","x":302,"y":-2.0},{"s":"c8","x":306,"y":-1.95},{"s":"c8","x":310,"y":-1.9},{"s":"c8","x":314,"y":-1.85},{"s":"c8","x":318,"y":-1.55},{"s":"c8","x":322,"y":-1.15},{"s":"c8","x":326,"y":-0.8},{"s":"c8","x":330,"y":-0.45},{"s":"c8","x":334,"y":-0.15},{"s":"c8","x":337,"y":0.05},{"s":"c8","x":340,"y":0.25}
    ],
    "fd": [
      {"s":"d0","x":190,"y":0.05},{"s":"d0","x":195,"y":0.15},{"s":"d0","x":200,"y":0.1},{"s":"d0","x":205,"y":0.05},{"s":"d0","x":210,"y":0.0},{"s":"d0","x":215,"y":-0.05},{"s":"d0","x":220,"y":-0.1},{"s":"d0","x":225,"y":-0.05},{"s":"d0","x":230,"y":-0.1},{"s":"d0","x":235,"y":-0.15},{"s":"d0","x":240,"y":-0.17},{"s":"d0","x":245,"y":-0.15},{"s":"d0","x":250,"y":-0.1},{"s":"d0","x":255,"y":-0.05},{"s":"d0","x":260,"y":0.0},{"s":"d0","x":265,"y":-0.1},{"s":"d0","x":270,"y":-0.1},{"s":"d0","x":275,"y":-0.05},{"s":"d0","x":280,"y":0.0},{"s":"d0","x":285,"y":0.05},{"s":"d0","x":290,"y":0.05},{"s":"d0","x":295,"y":0.0},{"s":"d0","x":300,"y":0.0},{"s":"d0","x":305,"y":-0.05},{"s":"d0","x":310,"y":0.0},{"s":"d0","x":315,"y":0.05},{"s":"d0","x":320,"y":0.0},{"s":"d0","x":325,"y":0.0},{"s":"d0","x":330,"y":-0.05},{"s":"d0","x":335,"y":-0.1},{"s":"d0","x":340,"y":-0.1},
      {"s":"d1","x":190,"y":0.0},{"s":"d1","x":198,"y":0.1},{"s":"d1","x":208,"y":0.2},{"s":"d1","x":213,"y":0.25},{"s":"d1","x":218,"y":0.26},{"s":"d1","x":223,"y":0.1},{"s":"d1","x":228,"y":0.0},{"s":"d1","x":234,"y":-0.3},{"s":"d1","x":240,"y":-0.3},{"s":"d1","x":244,"y":-0.6},{"s":"d1","x":249,"y":-0.75},{"s":"d1","x":253,"y":-0.46},{"s":"d1","x":257,"y":0.0},{"s":"d1","x":261,"y":0.3},{"s":"d1","x":265,"y":1.0},{"s":"d1","x":269,"y":1.6},{"s":"d1","x":273,"y":2.4},{"s":"d1","x":277,"y":2.2},{"s":"d1","x":280,"y":2.3},{"s":"d1","x":283,"y":2.5},{"s":"d1","x":287,"y":2.6},{"s":"d1","x":291,"y":2.5},{"s":"d1","x":296,"y":3.1},{"s":"d1","x":301,"y":3.6},{"s":"d1","x":305,"y":3.7},{"s":"d1","x":308,"y":3.9},{"s":"d1","x":312,"y":3.8},{"s":"d1","x":315,"y":3.3},{"s":"d1","x":318,"y":2.7},{"s":"d1","x":321,"y":2.2},{"s":"d1","x":325,"y":1.56},{"s":"d1","x":328,"y":1.0},{"s":"d1","x":331,"y":0.2},{"s":"d1","x":333,"y":-0.3},{"s":"d1","x":336,"y":-1.1},{"s":"d1","x":340,"y":-2.0},
      {"s":"d2","x":190,"y":0.0},{"s":"d2","x":198,"y":0.15},{"s":"d2","x":208,"y":0.35},{"s":"d2","x":213,"y":0.45},{"s":"d2","x":218,"y":0.55},{"s":"d2","x":223,"y":0.3},{"s":"d2","x":228,"y":-0.05},{"s":"d2","x":233,"y":-0.75},{"s":"d2","x":239,"y":-1.47},{"s":"d2","x":244,"y":-1.18},{"s":"d2","x":249,"y":-0.75},{"s":"d2","x":255,"y":-0.17},{"s":"d2","x":259,"y":0.1},{"s":"d2","x":263,"y":0.8},{"s":"d2","x":266,"y":1.8},{"s":"d2","x":270,"y":2.7},{"s":"d2","x":274,"y":3.6},{"s":"d2","x":278,"y":4.2},{"s":"d2","x":282,"y":4.5},{"s":"d2","x":285,"y":4.8},{"s":"d2","x":289,"y":5.2},{"s":"d2","x":292,"y":5.6},{"s":"d2","x":296,"y":6.0},{"s":"d2","x":299,"y":6.4},{"s":"d2","x":303,"y":6.8},{"s":"d2","x":306,"y":7.1},{"s":"d2","x":310,"y":7.5},{"s":"d2","x":313,"y":6.9},{"s":"d2","x":316,"y":6.0},{"s":"d2","x":318,"y":5.0},{"s":"d2","x":321,"y":3.6},{"s":"d2","x":324,"y":2.4},{"s":"d2","x":327,"y":1.3},{"s":"d2","x":331,"y":0.0},{"s":"d2","x":335,"y":-1.4},{"s":"d2","x":338,"y":-2.8},{"s":"d2","x":340,"y":-4.5},
      {"s":"d3","x":190,"y":0.0},{"s":"d3","x":196,"y":0.2},{"s":"d3","x":204,"y":0.25},{"s":"d3","x":210,"y":0.3},{"s":"d3","x":215,"y":0.35},{"s":"d3","x":218,"y":0.4},{"s":"d3","x":221,"y":0.2},{"s":"d3","x":224,"y":0.0},{"s":"d3","x":228,"y":-0.9},{"s":"d3","x":233,"y":-2.3},{"s":"d3","x":237,"y":-2.6},{"s":"d3","x":241,"y":-2.9},{"s":"d3","x":245,"y":-2.8},{"s":"d3","x":248,"y":-3.2},{"s":"d3","x":250,"y":-4.0},{"s":"d3","x":253,"y":-2.05},{"s":"d3","x":257,"y":-0.75},{"s":"d3","x":261,"y":0.1},{"s":"d3","x":264,"y":2.0},{"s":"d3","x":267,"y":4.2},{"s":"d3","x":271,"y":6.0},{"s":"d3","x":274,"y":6.8},{"s":"d3","x":277,"y":7.3},{"s":"d3","x":282,"y":8.1},{"s":"d3","x":285,"y":8.6},{"s":"d3","x":288,"y":9.3},{"s":"d3","x":292,"y":10.6},{"s":"d3","x":295,"y":11.3},{"s":"d3","x":299,"y":12.0},{"s":"d3","x":302,"y":11.6},{"s":"d3","x":305,"y":11.8},{"s":"d3","x":308,"y":12.0},{"s":"d3","x":310,"y":12.2},{"s":"d3","x":313,"y":11.4},{"s":"d3","x":316,"y":9.5},{"s":"d3","x":318,"y":8.3},{"s":"d3","x":321,"y":6.9},{"s":"d3","x":324,"y":5.2},{"s":"d3","x":327,"y":3.6},{"s":"d3","x":331,"y":0.7},{"s":"d3","x":335,"y":-1.4},{"s":"d3","x":340,"y":-4.0},
      {"s":"d4","x":190,"y":0.0},{"s":"d4","x":197,"y":0.2},{"s":"d4","x":205,"y":0.4},{"s":"d4","x":212,"y":0.55},{"s":"d4","x":218,"y":0.7},{"s":"d4","x":222,"y":0.5},{"s":"d4","x":226,"y":0.26},{"s":"d4","x":231,"y":-0.75},{"s":"d4","x":237,"y":-1.76},{"s":"d4","x":242,"y":-2.3},{"s":"d4","x":247,"y":-1.47},{"s":"d4","x":251,"y":-0.9},{"s":"d4","x":255,"y":-0.17},{"s":"d4","x":259,"y":0.26},{"s":"d4","x":262,"y":1.5},{"s":"d4","x":265,"y":3.5},{"s":"d4","x":268.5,"y":6.4},{"s":"d4","x":272,"y":8.8},{"s":"d4","x":277,"y":11.0},{"s":"d4","x":282,"y":12.4},{"s":"d4","x":288,"y":13.0},{"s":"d4","x":293.6,"y":13.8},{"s":"d4","x":299,"y":14.5},{"s":"d4","x":303,"y":14.6},{"s":"d4","x":306,"y":14.7},{"s":"d4","x":310,"y":15.1},{"s":"d4","x":314.5,"y":13.8},{"s":"d4","x":318.7,"y":11.4},{"s":"d4","x":321,"y":9.8},{"s":"d4","x":324,"y":7.5},{"s":"d4","x":327,"y":5.0},{"s":"d4","x":330,"y":2.7},{"s":"d4","x":334,"y":0.3},{"s":"d4","x":337,"y":-2.0},{"s":"d4","x":340,"y":-5.1},
      {"s":"d5","x":190,"y":0.0},{"s":"d5","x":196,"y":0.2},{"s":"d5","x":204,"y":0.35},{"s":"d5","x":211,"y":0.6},{"s":"d5","x":217.7,"y":0.84},{"s":"d5","x":223.6,"y":0.26},{"s":"d5","x":227.5,"y":-0.75},{"s":"d5","x":231.5,"y":-1.6},{"s":"d5","x":235.4,"y":-2.6},{"s":"d5","x":239.3,"y":-3.3},{"s":"d5","x":241.8,"y":-3.5},{"s":"d5","x":244.2,"y":-3.05},{"s":"d5","x":247.2,"y":-3.2},{"s":"d5","x":251,"y":-2.05},{"s":"d5","x":256,"y":-0.75},{"s":"d5","x":259,"y":0.1},{"s":"d5","x":262,"y":1.0},{"s":"d5","x":265.7,"y":4.8},{"s":"d5","x":269,"y":7.5},{"s":"d5","x":272.7,"y":9.9},{"s":"d5","x":278,"y":12.4},{"s":"d5","x":284,"y":13.0},{"s":"d5","x":289.4,"y":13.2},{"s":"d5","x":295,"y":14.0},{"s":"d5","x":299,"y":15.1},{"s":"d5","x":304.7,"y":15.7},{"s":"d5","x":308.9,"y":15.9},{"s":"d5","x":313,"y":15.1},{"s":"d5","x":318.7,"y":13.8},{"s":"d5","x":324,"y":11.0},{"s":"d5","x":328.4,"y":6.9},{"s":"d5","x":332.6,"y":1.7},{"s":"d5","x":336,"y":-0.5},{"s":"d5","x":340,"y":-2.6},
      {"s":"d6","x":190,"y":0.0},{"s":"d6","x":197,"y":0.25},{"s":"d6","x":205,"y":0.5},{"s":"d6","x":211,"y":0.8},{"s":"d6","x":217.7,"y":1.27},{"s":"d6","x":223.6,"y":0.7},{"s":"d6","x":227.5,"y":-0.17},{"s":"d6","x":232.4,"y":-2.6},{"s":"d6","x":236.4,"y":-4.4},{"s":"d6","x":240.3,"y":-4.06},{"s":"d6","x":243.3,"y":-4.06},{"s":"d6","x":247.2,"y":-3.3},{"s":"d6","x":251,"y":-2.05},{"s":"d6","x":255,"y":-0.9},{"s":"d6","x":259,"y":0.0},{"s":"d6","x":263,"y":0.84},{"s":"d6","x":266,"y":3.5},{"s":"d6","x":270,"y":7.5},{"s":"d6","x":274,"y":11.0},{"s":"d6","x":278,"y":13.0},{"s":"d6","x":285,"y":14.5},{"s":"d6","x":292,"y":15.3},{"s":"d6","x":299,"y":15.7},{"s":"d6","x":306,"y":16.5},{"s":"d6","x":310,"y":16.1},{"s":"d6","x":316,"y":14.5},{"s":"d6","x":323,"y":11.0},{"s":"d6","x":327,"y":7.9},{"s":"d6","x":331,"y":4.6},{"s":"d6","x":335,"y":3.8},{"s":"d6","x":338,"y":4.0},{"s":"d6","x":340,"y":5.0},
      {"s":"d7","x":190,"y":0.0},{"s":"d7","x":198,"y":0.26},{"s":"d7","x":208,"y":0.55},{"s":"d7","x":215.7,"y":1.4},{"s":"d7","x":218.7,"y":1.56},{"s":"d7","x":222.6,"y":1.1},{"s":"d7","x":225.6,"y":0.55},{"s":"d7","x":229.5,"y":-0.3},{"s":"d7","x":233.4,"y":-2.0},{"s":"d7","x":237.4,"y":-3.5},{"s":"d7","x":241.3,"y":-4.6},{"s":"d7","x":243.3,"y":-5.1},{"s":"d7","x":246.2,"y":-4.35},{"s":"d7","x":249.2,"y":-3.5},{"s":"d7","x":253,"y":-2.05},{"s":"d7","x":257,"y":-0.3},{"s":"d7","x":260,"y":0.9},{"s":"d7","x":263,"y":3.1},{"s":"d7","x":268.5,"y":6.9},{"s":"d7","x":274,"y":11.0},{"s":"d7","x":279,"y":12.8},{"s":"d7","x":285,"y":14.5},{"s":"d7","x":289.4,"y":14.9},{"s":"d7","x":292,"y":14.7},{"s":"d7","x":295.7,"y":15.3},{"s":"d7","x":300.6,"y":16.1},{"s":"d7","x":304.7,"y":16.7},{"s":"d7","x":308,"y":17.0},{"s":"d7","x":311.8,"y":16.1},{"s":"d7","x":314.5,"y":15.5},{"s":"d7","x":318.7,"y":13.8},{"s":"d7","x":324,"y":10.1},{"s":"d7","x":328.4,"y":5.8},{"s":"d7","x":332.6,"y":1.5},{"s":"d7","x":336.8,"y":-1.4},{"s":"d7","x":340,"y":-5.5}
    ],
    "inset": [
      {"c":0.0,"v":0.0},{"c":0.4,"v":3.5},{"c":0.8,"v":7.06},{"c":1.2,"v":12.0},{"c":1.6,"v":14.4},{"c":2.0,"v":16.0},{"c":2.4,"v":16.3},{"c":2.8,"v":16.75}
    ]
  },
  "hconcat": [
    {
      "width": 570,
      "height": 571,
      "resolve": {"axis": {"x": "independent", "y": "independent"}},
      "layer": [
        {
          "data": {"name": "fa"},
          "mark": {"type": "line", "strokeWidth": 2, "clip": true},
          "encoding": {
            "x": {"field": "x", "type": "quantitative", "scale": {"domain": [320, 520], "nice": false, "zero": false},
              "axis": {"orient": "bottom", "offset": -8, "values": [320, 360, 400, 440, 480, 520], "tickSize": 11, "labelFontSize": 37, "labelPadding": 10, "title": "λ(n m)", "titleFontSize": 52, "titleX": 282, "titleY": 94, "titleBaseline": "middle", "titleAlign": "center"}},
            "y": {"field": "y", "type": "quantitative", "scale": {"domain": [0, 1104], "range": [563, 0], "nice": false},
              "axis": {"orient": "left", "values": [0, 200, 400, 600, 800, 1000], "labelFontSize": 37, "labelPadding": 1, "title": "I", "titleFontSize": 72, "titleX": -107, "titleY": 330, "titleAngle": 270, "titleBaseline": "middle", "titleAlign": "center"}},
            "color": {"field": "s", "type": "nominal", "legend": null,
              "scale": {"domain": ["a1","a2","a3","a4","a5","a6","a7","a8"], "range": ["#7a7a7a","#d8d8d8","#555555","#c0c0c0","#3c3c3c","#c8c8c8","#404040","#111111"]}}
          }
        },
        {"data": {"values": [{}]}, "mark": {"type": "rect", "fill": null, "stroke": "#000000", "strokeWidth": 2},
          "encoding": {
            "x": {"datum": 320, "type": "quantitative", "axis": {"orient": "bottom", "offset": -8, "values": [340, 380, 420, 460, 500], "labels": false, "domain": false, "tickSize": 6, "title": null}},
            "x2": {"datum": 520},
            "y": {"datum": 0, "type": "quantitative", "axis": {"orient": "left", "values": [100, 300, 500, 700, 900], "labels": false, "domain": false, "tickSize": 6, "title": null}},
            "y2": {"datum": 1104}}},
        {"data": {"values": [{}]}, "mark": {"type": "rule", "strokeWidth": 2, "color": "#000000"}, "encoding": {"x": {"datum": 322.5, "axis": null}, "y": {"datum": 135, "axis": null}, "y2": {"datum": 575}}},
        {"data": {"values": [{}]}, "mark": {"type": "point", "shape": "triangle-up", "filled": true, "size": 110, "color": "#000000", "opacity": 1}, "encoding": {"x": {"datum": 322.5, "axis": null}, "y": {"datum": 578, "axis": null}}},
        {"data": {"values": [{}]}, "mark": {"type": "text", "text": "Zn²⁺", "fontSize": 48, "align": "left", "baseline": "alphabetic"}, "encoding": {"x": {"datum": 331, "axis": null}, "y": {"datum": 639, "axis": null}}},
        {"data": {"values": [{}]}, "mark": {"type": "text", "text": "f", "fontSize": 36, "angle": 270}, "encoding": {"x": {"datum": 289.5, "axis": null}, "y": {"datum": 482, "axis": null}}},
        {"data": {"values": [{}]}, "mark": {"type": "text", "text": "(a)", "fontSize": 62}, "encoding": {"x": {"datum": 281.8, "axis": null}, "y": {"datum": -133, "axis": null}}}
      ]
    },
    {
      "width": 600,
      "height": 571,
      "layer": [
        {
          "data": {"name": "fb"},
          "mark": {"type": "line", "strokeWidth": 2.5, "clip": true},
          "encoding": {
            "x": {"field": "x", "type": "quantitative", "scale": {"domain": [200, 340], "nice": false, "zero": false},
              "axis": {"offset": -23, "values": [200, 220, 240, 260, 280, 300, 320, 340], "labelFontSize": 40, "labelPadding": 9, "title": "λ (n m)", "titleFontSize": 52, "titleX": 222, "titleY": 109, "titleBaseline": "middle", "titleAlign": "center"}},
            "y": {"field": "y", "type": "quantitative", "scale": {"domain": [-4, 2], "range": [548, 25.6], "nice": false, "zero": false},
              "axis": {"values": [-4, -3, -2, -1, 0, 1, 2], "labelFontSize": 40, "labelPadding": 4, "tickSize": 14, "title": "Ellipticityθ (m deg)", "titleFontSize": 58, "titleX": -63, "titleY": 256, "titleAngle": 270, "titleBaseline": "middle", "titleAlign": "center"}},
            "color": {"field": "s", "type": "nominal", "legend": null,
              "scale": {"domain": ["b1","b2","b3","b4","b5","b6","b7"], "range": ["#333333","#555555","#aaaaaa","#444444","#666666","#bbbbbb","#cccccc"]}},
            "strokeDash": {"field": "s", "type": "nominal", "legend": null,
              "scale": {"domain": ["b1","b2","b3","b4","b5","b6","b7"], "range": [[10,4,3,4],[3,3],[3,3],[3,3],[3,3],[3,3],[3,3]]}}
          }
        },
        {"data": {"values": [{}]}, "mark": {"type": "rect", "fill": null, "stroke": "#000000", "strokeWidth": 2},
          "encoding": {"x": {"datum": 200, "type": "quantitative"}, "x2": {"datum": 340}, "y": {"datum": -4, "type": "quantitative"}, "y2": {"datum": 2}}},
        {"data": {"values": [{}]}, "mark": {"type": "rule", "strokeWidth": 2, "color": "#000000"}, "encoding": {"x": {"datum": 200}, "x2": {"datum": 340}, "y": {"datum": 0}}},
        {"data": {"values": [{}]}, "mark": {"type": "rule", "strokeWidth": 2, "color": "#000000"}, "encoding": {"x": {"datum": 327.9}, "y": {"datum": -0.67}, "y2": {"datum": -2.2}}},
        {"data": {"values": [{}]}, "mark": {"type": "point", "shape": "triangle-down", "filled": true, "size": 110, "color": "#000000", "opacity": 1}, "encoding": {"x": {"datum": 327.9}, "y": {"datum": -2.25}}},
        {"data": {"values": [{}]}, "mark": {"type": "text", "text": "Zn²⁺", "fontSize": 50, "align": "left", "baseline": "alphabetic"}, "encoding": {"x": {"datum": 317.9}, "y": {"datum": -3.0}}},
        {"data": {"values": [{}]}, "mark": {"type": "text", "text": "(b)", "fontSize": 66}, "encoding": {"x": {"datum": 176.4}, "y": {"datum": -4.87}}}
      ]
    },
    {
      "width": 714,
      "height": 571,
      "layer": [
        {
          "data": {"name": "fc"},
          "mark": {"type": "line", "strokeWidth": 2.5, "clip": true},
          "encoding": {
            "x": {"field": "x", "type": "quantitative", "scale": {"domain": [200, 340], "nice": false, "zero": false},
              "axis": {"offset": 0, "values": [200, 220, 240, 260, 280, 300, 320, 340], "labelFontSize": 44, "labelPadding": 14, "title": "λ (nm)", "titleFontSize": 56, "titleX": 359, "titleY": 86, "titleBaseline": "middle", "titleAlign": "center"}},
            "y": {"field": "y", "type": "quantitative", "scale": {"domain": [-4, 2], "range": [571, 20], "nice": false, "zero": false},
              "axis": {"values": [-4, -3, -2, -1, 0, 1, 2], "labelFontSize": 44, "labelPadding": 2, "tickSize": 8, "title": "ellipticityθ (mdeg)", "titleFontSize": 64, "titleX": -43, "titleY": 285, "titleAngle": 270, "titleBaseline": "middle", "titleAlign": "center"}},
            "color": {"field": "s", "type": "nominal", "legend": null,
              "scale": {"domain": ["c1","c2","c3","c4","c5","c6","c7","c8"], "range": ["#111111","#666666","#bbbbbb","#222222","#777777","#444444","#bbbbbb","#999999"]}},
            "strokeDash": {"field": "s", "type": "nominal", "legend": null,
              "scale": {"domain": ["c1","c2","c3","c4","c5","c6","c7","c8"], "range": [[12,8],[12,8],[12,8],[3,3],[3,3],[3,3],[3,3],[3,3]]}}
          }
        },
        {"data": {"values": [{}]}, "mark": {"type": "rect", "fill": null, "stroke": "#000000", "strokeWidth": 2},
          "encoding": {"x": {"datum": 200, "type": "quantitative"}, "x2": {"datum": 340}, "y": {"datum": -4, "type": "quantitative"}, "y2": {"datum": 2}}},
        {"data": {"values": [{}]}, "mark": {"type": "rule", "strokeWidth": 2, "color": "#000000"}, "encoding": {"x": {"datum": 200}, "x2": {"datum": 340}, "y": {"datum": 0}}},
        {"data": {"values": [{}]}, "mark": {"type": "text", "text": "(c)", "fontSize": 76}, "encoding": {"x": {"datum": 183.5}, "y": {"datum": -4.83}}}
      ]
    },
    {
      "width": 641,
      "height": 571,
      "resolve": {"scale": {"x": "independent", "y": "independent"}, "axis": {"x": "independent", "y": "independent"}},
      "layer": [
        {
          "layer": [
            {
              "data": {"name": "fd"},
              "mark": {"type": "line", "strokeWidth": 2.5, "clip": true},
              "encoding": {
                "x": {"field": "x", "type": "quantitative", "scale": {"domain": [190, 340], "nice": false, "zero": false},
                  "axis": {"orient": "bottom", "offset": -15, "values": [200, 220, 240, 260, 280, 300, 320, 340], "labelFontSize": 38, "labelPadding": 16, "tickSize": 12, "title": "λ (n m)", "titleFontSize": 56, "titleX": 330, "titleY": 101, "titleBaseline": "middle", "titleAlign": "center"}},
                "y": {"field": "y", "type": "quantitative", "scale": {"domain": [-6, 18], "range": [556, 7], "nice": false, "zero": false},
                  "axis": {"orient": "left", "values": [-5, 0, 5, 10, 15], "labelFontSize": 38, "labelPadding": 8, "tickSize": 12, "title": "ΔF  (V)", "titleFontSize": 58, "titleX": -63, "titleY": 255, "titleAngle": 270, "titleBaseline": "middle", "titleAlign": "center"}},
                "color": {"field": "s", "type": "nominal", "legend": null,
                  "scale": {"domain": ["d0","d1","d2","d3","d4","d5","d6","d7"], "range": ["#222222","#444444","#c0c0c0","#333333","#bbbbbb","#2a2a2a","#555555","#b0b0b0"]}},
                "strokeDash": {"field": "s", "type": "nominal", "legend": null,
                  "scale": {"domain": ["d0","d1","d2","d3","d4","d5","d6","d7"], "range": [[8,5],[3,3],[3,3],[3,3],[3,3],[3,3],[3,3],[3,3]]}}
              }
            },
            {"data": {"values": [{}]}, "mark": {"type": "rect", "fill": null, "stroke": "#000000", "strokeWidth": 2},
              "encoding": {"x": {"datum": 190, "type": "quantitative"}, "x2": {"datum": 340}, "y": {"datum": -6, "type": "quantitative"}, "y2": {"datum": 18}}},
            {"data": {"values": [{}]}, "mark": {"type": "rule", "strokeWidth": 2, "color": "#000000"}, "encoding": {"x": {"datum": 190}, "x2": {"datum": 340}, "y": {"datum": 0}}},
            {"data": {"values": [{}]}, "mark": {"type": "rule", "strokeWidth": 3, "color": "#000000"}, "encoding": {"x": {"datum": 332.3}, "y": {"datum": 5.6}, "y2": {"datum": 9.0}}},
            {"data": {"values": [{}]}, "mark": {"type": "point", "shape": "triangle-up", "filled": true, "size": 90, "color": "#000000", "opacity": 1}, "encoding": {"x": {"datum": 332.3}, "y": {"datum": 9.2}}},
            {"data": {"values": [{}]}, "mark": {"type": "text", "text": "Zn²⁺", "fontSize": 42, "align": "left", "baseline": "alphabetic"}, "encoding": {"x": {"datum": 324.3}, "y": {"datum": 10.55}}},
            {"data": {"values": [{}]}, "mark": {"type": "text", "text": "(d)", "fontSize": 76}, "encoding": {"x": {"datum": 171.3}, "y": {"datum": -9.99}}}
          ]
        },
        {
          "layer": [
            {"data": {"values": [{}]}, "mark": {"type": "rect", "fill": "#ffffff", "stroke": "#000000", "strokeWidth": 2},
              "encoding": {"x": {"datum": -0.03, "type": "quantitative"}, "x2": {"datum": 3}, "y": {"datum": 0, "type": "quantitative"}, "y2": {"datum": 18}}},
            {
              "data": {"name": "inset"},
              "mark": {"type": "point", "shape": "square", "filled": true, "size": 220, "color": "#000000", "opacity": 1},
              "encoding": {
                "x": {"field": "c", "type": "quantitative", "scale": {"domain": [-0.03, 3], "range": [83, 317], "nice": false, "zero": false},
                  "axis": {"orient": "bottom", "offset": -259, "domain": false, "values": [0, 1, 2, 3], "labelFontSize": 34, "labelPadding": 1, "tickSize": 6, "title": "Total Zn²⁺ (μM)", "titleFontSize": 28, "titleX": 211, "titleY": 53, "titleBaseline": "middle", "titleAlign": "center"}},
                "y": {"field": "v", "type": "quantitative", "scale": {"domain": [0, 18], "range": [312, 21], "nice": false, "zero": false},
                  "axis": {"orient": "left", "offset": -83, "domain": false, "values": [0, 2, 4, 6, 8, 10, 12, 14, 16, 18], "labelFontSize": 24, "labelPadding": 1, "tickSize": 6, "title": "ΔF₃₀₈ (V)", "titleFontSize": 34, "titleX": -34, "titleY": 161, "titleAngle": 270, "titleBaseline": "middle", "titleAlign": "center"}}
              }
            }
          ]
        }
      ]
    }
  ]
}
